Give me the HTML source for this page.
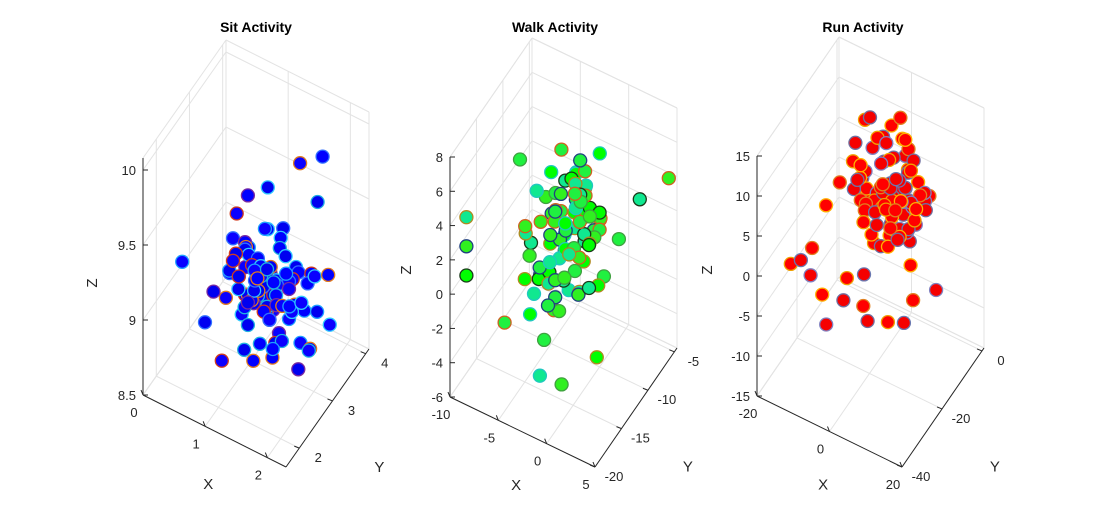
<!DOCTYPE html>
<html><head><meta charset="utf-8">
<style>
html,body{margin:0;padding:0;background:#fff;}
svg{display:block;font-family:"Liberation Sans",Arial,sans-serif;}
</style></head>
<body>
<svg id="chart" width="1095" height="525" viewBox="0 0 1095 525" xmlns="http://www.w3.org/2000/svg">
<rect width="1095" height="525" fill="#fff"/>
</svg>
<script>
// ---- Sit data ----
const sitX=[1.3,0.9,1.6,1.1,1.8,0.7,1.4,1.2,2.0,1.0, 1.5,0.8,1.7,1.2,0.6,1.9,1.3,1.0,1.6,1.4, 1.1,1.8,0.9,1.5,1.2,2.1,0.7,1.4,1.7,1.0, 1.3,1.6,0.8,1.9,1.1,1.5,1.2,0.6,1.8,1.4, 1.0,1.7,1.3,2.0,0.9,1.5,1.2,1.6,1.1,1.4, 0.23,1.02,1.34,1.86,1.82,2.14,1.0,1.42,1.83,2.07,1.91,0.33,2.0,
 1.0,1.2,1.4,0.9,1.1,1.3,1.5,0.8,1.6,1.2, 1.0,1.4,1.1,1.3,0.9,1.5,1.2,1.7,1.0,1.4, 1.1,1.3,0.8,1.6,1.2,1.0,1.5,1.3,0.9,1.1, 1.4,1.2,1.6,1.0,1.3,0.7,1.5,1.1,1.8,1.2];
const sitY=[2.9,3.1,2.7,3.3,2.8,3.0,2.5,3.2,2.6,2.8, 3.4,2.6,3.1,2.4,3.3,2.9,3.0,2.7,2.5,3.2, 3.0,3.3,2.8,2.6,3.5,2.7,2.9,3.1,2.4,3.4, 2.5,2.9,3.2,3.0,2.7,3.3,2.8,2.6,3.4,2.3, 2.8,2.6,3.4,3.1,3.0,2.8,3.2,3.0,2.6,2.9, 2.35,2.85,2.85,2.85,3.6,2.85,2.1,2.85,2.85,3.35,3.6,2.85,2.85,
 2.8,3.0,2.9,3.1,2.7,3.2,2.8,2.9,3.0,3.1, 2.6,2.7,3.0,2.9,3.2,3.1,2.8,2.9,3.0,2.6, 3.1,2.8,2.7,3.0,2.9,3.2,2.6,3.1,2.8,2.9, 3.0,2.7,2.8,3.1,2.9,3.0,3.2,2.7,3.0,2.8];
const sitZ=[9.0,9.2,8.9,9.3,9.1,9.25,8.85,9.05,8.95,9.35, 9.1,9.0,9.2,8.8,9.3,9.05,9.15,8.9,8.8,9.4, 8.95,9.15,9.1,9.0,9.2,8.9,9.05,9.3,8.95,9.25, 9.1,9.35,9.15,9.2,8.85,9.05,9.25,9.0,9.1,8.8, 9.3,8.9,8.95,9.0,9.1,9.2,9.1,9.15,9.0,9.05, 9.2,9.65,9.77,10.04,9.84,9.84,8.78,8.71,8.66,8.85,9.07,8.66,8.82,
 9.0,9.1,8.95,9.15,9.05,9.0,9.1,9.2,8.9,9.05, 9.1,9.0,9.2,8.95,9.05,9.15,9.1,9.0,8.9,9.2, 9.05,8.95,9.15,9.1,9.2,8.9,9.0,9.05,9.1,9.15, 8.95,9.1,9.05,9.0,9.2,9.1,8.9,9.0,9.05,9.15];
// ---- Walk data ----
const walkX=[-2.5,-4,-1,-5,0,-3,-6,-2,-3.5,1, -1.5,-4.5,-3,-0.5,-6.5,-2,-5,0.5,-3,-1, -2,-4,-1,-5.5,-3,0,-2.5,-4.5,1.5,-3.5, -1,-5,-3,-2,-6,0,-4,-1.5,-3.5,-0.5, -2.5,-4,-1,-3,-5,2,-2,-3.5,-0.5,-4.5, -3,-1.5,-4,-2,0,-5.5, 1.25,-7,-10,-10,-10,-6.9,-3.25,-1,0.1,-3.25,3.7,5,-5,-3,
 -2,-3,-1,-4,-2.5,0,-1.5,-3.5,-0.5,-2, -3,-1,-2.5,-4,0,-1.5,-3,-2,-0.5,-3.5, -2,-1,-3,-2.5,-1.5,-4,0,-2,-3.5,-1];
const walkY=[-12,-10,-14,-11,-13,-9,-12,-15,-8,-11, -10,-13,-16,-9,-10,-14,-15,-12,-11,-8, -13,-11,-12,-9,-14,-10,-8,-15,-13,-12, -15,-12,-9,-11,-13,-14,-8,-10,-16,-12, -9,-14,-11,-13,-10,-10,-16,-12,-14,-9, -11,-13,-12,-10,-12,-14, -12.25,-12.25,-16.9,-16.9,-16.9,-15.35,-15.35,-15.35,-10.7,-13.8,-9.15,-6.05,-14,-15,
 -11,-12,-10,-11,-13,-11,-12,-10,-12,-9, -11,-13,-10,-12,-10,-11,-9,-13,-11,-12, -10,-12,-11,-9,-13,-10,-12,-11,-13,-10];
const walkZ=[1,2,0,3,1.5,2.5,0.5,-1,3.5,0, 4,-0.5,1,2,2.5,-1.5,0,3,4.5,1.5, 2.5,3.5,-1,1,0.5,2,3,1.5,0.5,-2, 1,2,4,-0.5,1.5,0,3,5,0,3.5, 2,0.5,1.5,3,4,2,1,-1,2.5,5, 2,3,1,5.5,-0.5,2.5, 7.8,5.2,3.1,1.4,-0.3,-2.9,-5,-4.9,-5.1,-1.6,4.4,4.6,-2.5,-3,
 2,1.5,3,2.5,1,2,3.5,1,2.5,3, 0.5,2,4,1.5,3,2.5,2,0,1.5,3, 3.5,1,2,2.5,1.5,3,2,4,0.5,2.5];
// ---- Run data ----
const runX=[3,-2,6,0,9,-5,4,1,11,-3, 5,-1,8,2,-6,12,0,7,-4,3, 1,6,-3,10,4,-1,8,2,-7,5, -2,7,3,13,0,5,-4,9,2,6, 4,-5,1,8,-1,10,3,6,0,12, 2,7,-3,5,0,9,4,-2,6,1, -15.2,-12.4,-11.6,-12,-10,-5.2,-6.5,-1.8,-2,-7.7,-8.8,-0.8,4.8,4.7,9.5,11.3,8.8,-2.4,
 4,6,2,8,5,3,7,1,9,5, 4,6,3,8,2,7,5,10,4,6, 3,5,7,2,8,4,6,1,9,5];
const runY=[-17,-20,-14,-22,-12,-18,-25,-15,-10,-13, -19,-11,-21,-16,-24,-14,-9,-27,-15,-12, -23,-13,-16,-18,-8,-26,-15,-20,-12,-17, -14,-22,-10,-16,-19,-7,-21,-13,-28,-11, -18,-17,-12,-24,-20,-15,-9,-19,-16,-22, -26,-14,-19,-11,-23,-17,-21,-8,-13,-15, -31.8,-31.8,-27.7,-27.7,-23.6,-23.6,-19.5,-19.5,-19.5,-27.7,-27.7,-19.5,-19.5,-11.3,-15.4,-7.2,-15.4,-15.4,
 -16,-14,-18,-13,-17,-15,-12,-19,-11,-14, -16,-13,-18,-15,-17,-12,-14,-10,-19,-16, -15,-13,-17,-20,-12,-14,-18,-16,-13,-15];
const runZ=[7,9,5,11,8,12,4,13,6,10, 3,8,10,6,9,7,12,5,14,4, 9,11,6,3,7,10,13,8,5,12, 4,6,14,9,2,8,11,5,10,3, 1,7,9,12,6,4,11,8,13,10, 8,2,10,6,5,11,7,9,13,6, -0.4,0.7,0.9,-2.6,5.1,-5.7,-4.7,-3.2,-7.2,-7.8,-4.3,-8.8,-7.7,-10.8,-5.4,-6.7,-1.2,14.8,
 6,4,8,5,3,7,9,5,6,2, 4,7,6,3,8,5,1,4,6,9, 2,5,7,4,3,8,6,10,5,1];
// ---- tick labels ----
const sitXTicks=[0,1,2], sitYTicks=[2,3,4], sitZTicks=[8.5,9,9.5,10];
const walkXTicks=[-10,-5,0,5], walkYTicks=[-20,-15,-10,-5], walkZTicks=[-6,-4,-2,0,2,4,6,8];
const runXTicks=[-20,0,20], runYTicks=[-40,-20,0], runZTicks=[-15,-10,-5,0,5,10,15];

const NS='http://www.w3.org/2000/svg';
const svg=document.getElementById('chart');
function mk(tag,attrs,parent){const e=document.createElementNS(NS,tag);for(const k in attrs)e.setAttribute(k,attrs[k]);(parent||svg).appendChild(e);return e;}

const panels=[
 {key:'sit',title:'Sit Activity',tx:256,O:[143,395],ex:[143,72],ey:[83,-118],ez:[0,-237],
  xr:[0,2.3],yr:[1.6,4.1],zr:[8.5,10.08],X:sitX,Y:sitY,Z:sitZ,xt:sitXTicks,yt:sitYTicks,zt:sitZTicks,
  fills:['#0000ff','#0000f0','#0a00ff'],edges:['#d23c1e','#1ea0ff','#7a2aa0','#30c8ff','#e07a20','#3070ff','#20b0e0'],zl:[97,283]},
 {key:'walk',title:'Walk Activity',tx:555,O:[450,397],ex:[145,70],ey:[82,-119],ez:[0,-240],
  xr:[-10,5],yr:[-20,-4.5],zr:[-6,8],X:walkX,Y:walkY,Z:walkZ,xt:walkXTicks,yt:walkYTicks,zt:walkZTicks,
  fills:['#00ff00','#20f040','#10e890','#30f020'],edges:['#1a3a1a','#d06020','#20c8c0','#40a040','#b08a20','#204080'],zl:[411,270]},
 {key:'run',title:'Run Activity',tx:863,O:[757,396],ex:[145,71],ey:[82,-119],ez:[0,-240],
  xr:[-20,20],yr:[-40,1],zr:[-15,15],X:runX,Y:runY,Z:runZ,xt:runXTicks,yt:runYTicks,zt:runZTicks,
  fills:['#ff0000','#f50000'],edges:['#f0a000','#6a78b0','#e08020','#8080c0','#ffb000','#7070a0'],zl:[712,270]}
];

panels.forEach(p=>{
 const g=mk('g',{});
 
 
 const nx=v=>(v-p.xr[0])/(p.xr[1]-p.xr[0]);
 const ny=v=>(v-p.yr[0])/(p.yr[1]-p.yr[0]);
 const nz=v=>(v-p.zr[0])/(p.zr[1]-p.zr[0]);
 const P=(a,b,c)=>[p.O[0]+a*p.ex[0]+b*p.ey[0]+c*p.ez[0], p.O[1]+a*p.ex[1]+b*p.ey[1]+c*p.ez[1]];
 const line=(A,B,col,w,name)=>{const l=mk('line',{x1:A[0],y1:A[1],x2:B[0],y2:B[1],stroke:col,'stroke-width':w},g);return l;};
 const gc='#e3e3e3';
 line(P(0,1,0),P(0,1,1),gc,1,'grid-edge');
 line(P(0,0,1),P(0,1,1),gc,1,'grid-edge');
 line(P(0,1,1),P(1,1,1),gc,1,'grid-edge');
 line(P(1,1,0),P(1,1,1),gc,1,'grid-edge');
 line(P(0,0,0),P(0,1,0),gc,1,'grid-edge');
 line(P(0,1,0),P(1,1,0),gc,1,'grid-edge');
 p.zt.forEach(t=>{const c=nz(t);line(P(0,0,c),P(0,1,c),gc,1,'z-grid');line(P(0,1,c),P(1,1,c),gc,1,'z-grid');});
 p.xt.forEach(t=>{const a=nx(t);line(P(a,0,0),P(a,1,0),gc,1,'x-grid');line(P(a,1,0),P(a,1,1),gc,1,'x-grid');});
 p.yt.forEach(t=>{const b=ny(t);line(P(0,b,0),P(1,b,0),gc,1,'y-grid');line(P(0,b,0),P(0,b,1),gc,1,'y-grid');});
 const ac='#262626';
 line(P(0,0,0),P(0,0,1),ac,1,'z-axis');
 line(P(0,0,0),P(1,0,0),ac,1,'x-axis');
 line(P(1,0,0),P(1,1,0),ac,1,'y-axis');
 const txt=(x,y,s,anchor,name,extra)=>{const t=mk('text',Object.assign({x:x,y:y,'font-size':13,fill:'#262626','text-anchor':anchor},extra||{}),g);t.textContent=s;return t;};
 p.zt.forEach(t=>{const q=P(0,0,nz(t));line(q,[q[0]+5,q[1]],ac,1,'z-tick');txt(q[0]-7,q[1]+5,String(t),'end','z-tick-label');});
 p.xt.forEach(t=>{const q=P(nx(t),0,0);line(q,[q[0]-2,q[1]-5],ac,1,'x-tick');txt(q[0]-9,q[1]+22,String(t),'middle','x-tick-label');});
 p.yt.forEach(t=>{const q=P(1,ny(t),0);line(q,[q[0]-5,q[1]-2],ac,1,'y-tick');txt(q[0]+19,q[1]+14,String(t),'middle','y-tick-label');});
 const xl=P(0.47,0,0), yl=P(1,0.45,0);
 txt(xl[0]-2,xl[1]+60,'X','middle','x-axis-title',{'font-size':15});
 txt(yl[0]+56,yl[1]+58,'Y','middle','y-axis-title',{'font-size':15});
 txt(p.zl[0],p.zl[1],'Z','middle','z-axis-title',{'font-size':15,transform:'rotate(-90 '+p.zl[0]+' '+p.zl[1]+')'});
 const tt=mk('text',{x:p.tx,y:32,'font-size':14,'font-weight':'bold','text-anchor':'middle',fill:'#000'},g);
 tt.textContent=p.title;
 
 
 const n=Math.min(p.X.length,p.Y.length,p.Z.length);
 for(let i=0;i<n;i++){
  const q=P(nx(p.X[i]),ny(p.Y[i]),nz(p.Z[i]));
  const c=mk('circle',{cx:q[0].toFixed(1),cy:q[1].toFixed(1),r:6.5,fill:p.fills[i%p.fills.length],stroke:p.edges[i%p.edges.length],'stroke-width':1.3},g);
  
  
 }
});
</script>
</body></html>
